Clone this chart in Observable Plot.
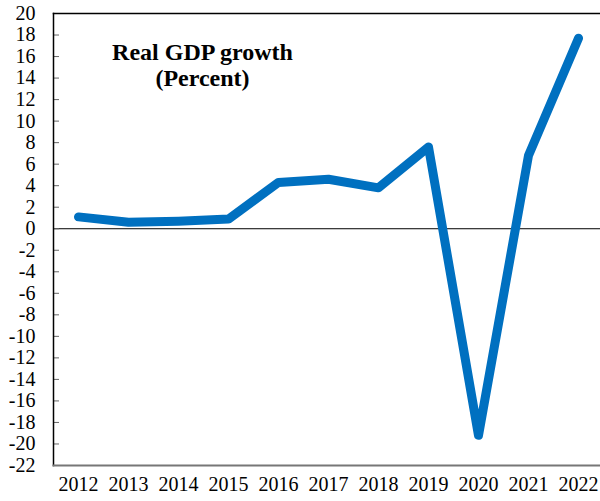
<!DOCTYPE html>
<html><head><meta charset="utf-8">
<script src="https://cdn.jsdelivr.net/npm/d3@7"></script>
<script src="https://cdn.jsdelivr.net/npm/@observablehq/plot@0.6"></script>
<style>body{margin:0;background:#fff;} svg{display:block;overflow:visible;}</style>
</head><body><div id="chart"></div>
<script>
const years = [2012, 2013, 2014, 2015, 2016, 2017, 2018, 2019, 2020, 2021, 2022];
const growth = [1.1, 0.6, 0.7, 0.9, 4.3, 4.6, 3.8, 7.6, -19.2, 6.8, 17.7];
const yTicks = d3.range(-22, 21, 2);
const titleLines = ["Real GDP growth", "(Percent)"];

const data = years.map((y, i) => ({year: y, value: growth[i]}));
const font = "Liberation Serif";

const chart = Plot.plot({
  width: 600, height: 501,
  marginLeft: 53, marginRight: 0, marginTop: 13, marginBottom: 36,
  style: {fontFamily: font, fontSize: "20px", color: "#000", background: "#fff"},
  x: {domain: [2011.5, 2022.5], range: [53, 603], axis: null},
  y: {domain: [-22, 20], range: [465, 13], axis: null},
  marks: [
    Plot.ruleY([0], {stroke: "#000", strokeWidth: 1}),
    Plot.axisY({ticks: yTicks, tickSize: -6, stroke: "#666", text: null, label: null}),
    Plot.text(yTicks, {y: d => d, frameAnchor: "left", dx: -18, textAnchor: "end", text: d => String(d), fontSize: 20, fontFamily: font, fill: "#000"}),
    Plot.text(years, {x: d => d, frameAnchor: "bottom", dy: 25, text: d => String(d), fontSize: 20, fontFamily: font, fill: "#000"}),
    Plot.frame({anchor: "left", stroke: "#000", strokeWidth: 1.5}),
    Plot.frame({anchor: "top", stroke: "#000", strokeWidth: 1.5}),
    Plot.frame({anchor: "bottom", stroke: "#777", strokeWidth: 2}),
    Plot.line(data, {x: "year", y: "value", stroke: "#0070C0", strokeWidth: 9, strokeLinejoin: "round", strokeLinecap: "round"}),
    Plot.text([titleLines.join("\n")], {frameAnchor: "top-left", dx: 149, dy: 27, text: d => d, textAnchor: "middle", fontWeight: "bold", fontSize: 24, fontFamily: font, lineHeight: 1.12, fill: "#000"})
  ]
});
document.getElementById("chart").append(chart);
</script></body></html>
